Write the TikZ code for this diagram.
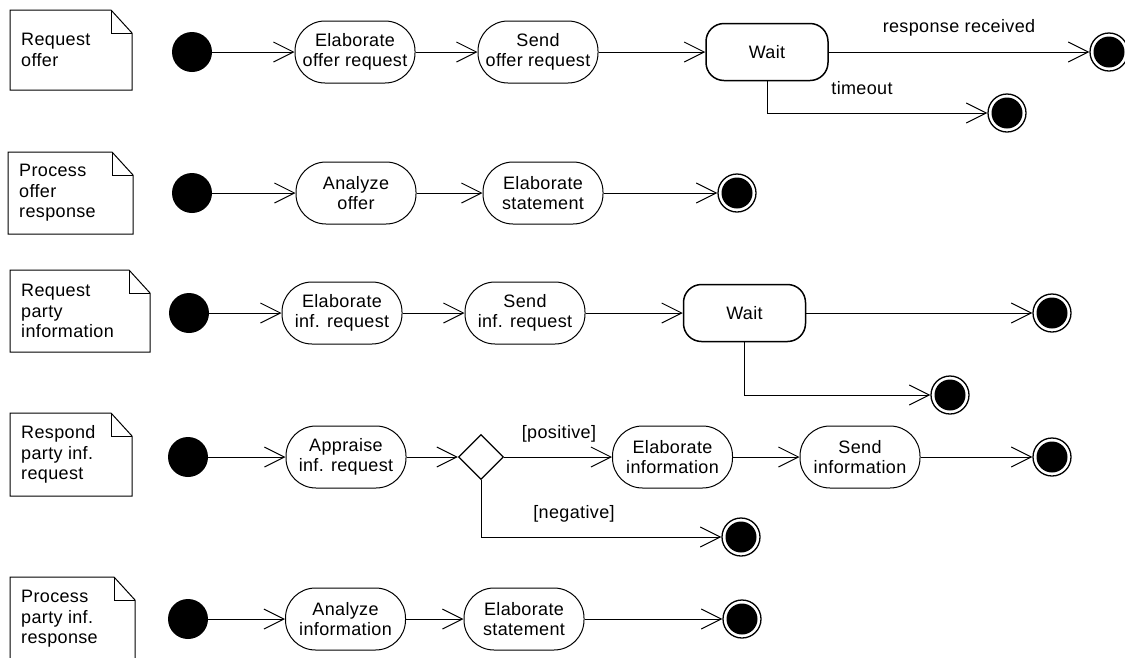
\documentclass[tikz,border=0pt]{standalone}
\usepackage{fontspec}
\setmainfont[LetterSpace=2.0]{Liberation Sans}
\usetikzlibrary{arrows.meta,shapes.geometric,calc}

\tikzset{
  every node/.style={font=\fontsize{18}{20.5}\selectfont},
  activity/.style={draw, line width=1pt, rectangle, rounded corners=30pt,
    minimum width=120pt, minimum height=62pt, inner sep=0pt, align=center},
  waitbox/.style={draw, line width=1.5pt, rectangle, rounded corners=18pt,
    minimum width=122pt, minimum height=57pt, inner sep=0pt},
  initial/.style={circle, fill=black, minimum size=40pt, inner sep=0pt},
  final/.style={circle, draw, line width=1.3pt, fill=white, minimum size=38pt,
    inner sep=0pt,
    path picture={\fill[black] (path picture bounding box.center) circle (15.5pt);}},
  choice/.style={diamond, draw, line width=1.2pt, minimum width=45pt,
    minimum height=45pt, inner sep=0pt},
  notetext/.style={inner sep=0pt, align=left, anchor=west},
  notebody/.style={line width=1pt},
  flow/.style={line width=1pt, -{Straight Barb[length=20pt,width=20pt,line width=1pt]}},
  guard/.style={inner sep=0pt},
}

% UML note with a folded top-right corner: name, x0, y0, x1, y1, text
\newcommand\umlnote[6]{%
  \draw[notebody] (#2,#3) -- (#4-21,#3) -- (#4,#3+23) -- (#4,#5) -- (#2,#5) -- cycle;
  \draw[notebody] (#4-21,#3) -- (#4-21,#3+23) -- (#4,#3+23);
  \node[notetext] (#1) at (#2+11,{(#3+#5)/2}) {#6};
}

\begin{document}
\begin{tikzpicture}[x=1pt,y=-1pt]
\useasboundingbox (0,0) rectangle (1125,657);
\clip (0,0) rectangle (1125,657);

% ---- Request offer ----
\umlnote{n1}{10}{10}{132}{90}{Request\\offer}
\node[initial] (i1) at (192,52) {};
\node[activity] (a11) at (355,52) {Elaborate\\offer request};
\node[activity] (a12) at (538,52) {Send\\offer request};
\node[waitbox] (w1) at (767,52) {Wait};
\node[final] (f11) at (1109,52) {};
\node[final] (f12) at (1007,113) {};
\draw[flow] (i1) -- (a11);
\draw[flow] (a11) -- (a12);
\draw[flow] (a12) -- (w1);
\draw[flow] (w1) -- (f11);
\draw[flow] (w1.south) |- (f12);
\node[guard] (l11) at (959,28) {response received};
\node[guard] (l12) at (862,88) {timeout};

% ---- Process offer response ----
\umlnote{n2}{8}{152}{133}{234}{Process\\offer\\response}
\node[initial] (i2) at (192,193) {};
\node[activity] (a21) at (356,193) {Analyze\\offer};
\node[activity] (a22) at (543,193) {Elaborate\\statement};
\node[final] (f2) at (737,193) {};
\draw[flow] (i2) -- (a21);
\draw[flow] (a21) -- (a22);
\draw[flow] (a22) -- (f2);

% ---- Request party information ----
\umlnote{n3}{10}{270}{150}{352}{Request\\party\\information}
\node[initial] (i3) at (189,313) {};
\node[activity] (a31) at (342,313) {Elaborate\\inf. request};
\node[activity] (a32) at (525,313) {Send\\inf. request};
\node[waitbox] (w3) at (744.5,313) {Wait};
\node[final] (f31) at (1052,313) {};
\node[final] (f32) at (950,395) {};
\draw[flow] (i3) -- (a31);
\draw[flow] (a31) -- (a32);
\draw[flow] (a32) -- (w3);
\draw[flow] (w3) -- (f31);
\draw[flow] (w3.south) |- (f32);

% ---- Respond party inf. request ----
\umlnote{n4}{10}{413}{132}{496}{Respond\\party inf.\\request}
\node[initial] (i4) at (188,457) {};
\node[activity] (a41) at (346,457) {Appraise\\inf. request};
\node[choice] (d4) at (481,457) {};
\node[activity] (a42) at (672.5,457) {Elaborate\\information};
\node[activity] (a43) at (860,457) {Send\\information};
\node[final] (f41) at (1052,457) {};
\node[final] (f42) at (741,537) {};
\draw[flow] (i4) -- (a41);
\draw[flow] (a41) -- (d4);
\draw[flow] (d4) -- (a42);
\draw[flow] (a42) -- (a43);
\draw[flow] (a43) -- (f41);
\draw[flow] (d4.south) |- (f42);
\node[guard] (l41) at (559,434) {[positive]};
\node[guard] (l42) at (574,514) {[negative]};

% ---- Process party inf. response ----
\umlnote{n5}{10}{577}{135}{661}{Process\\party inf.\\response}
\node[initial] (i5) at (188,619) {};
\node[activity] (a51) at (345.5,619) {Analyze\\information};
\node[activity] (a52) at (524,619) {Elaborate\\statement};
\node[final] (f5) at (742,619) {};
\draw[flow] (i5) -- (a51);
\draw[flow] (a51) -- (a52);
\draw[flow] (a52) -- (f5);
\end{tikzpicture}
\end{document}
